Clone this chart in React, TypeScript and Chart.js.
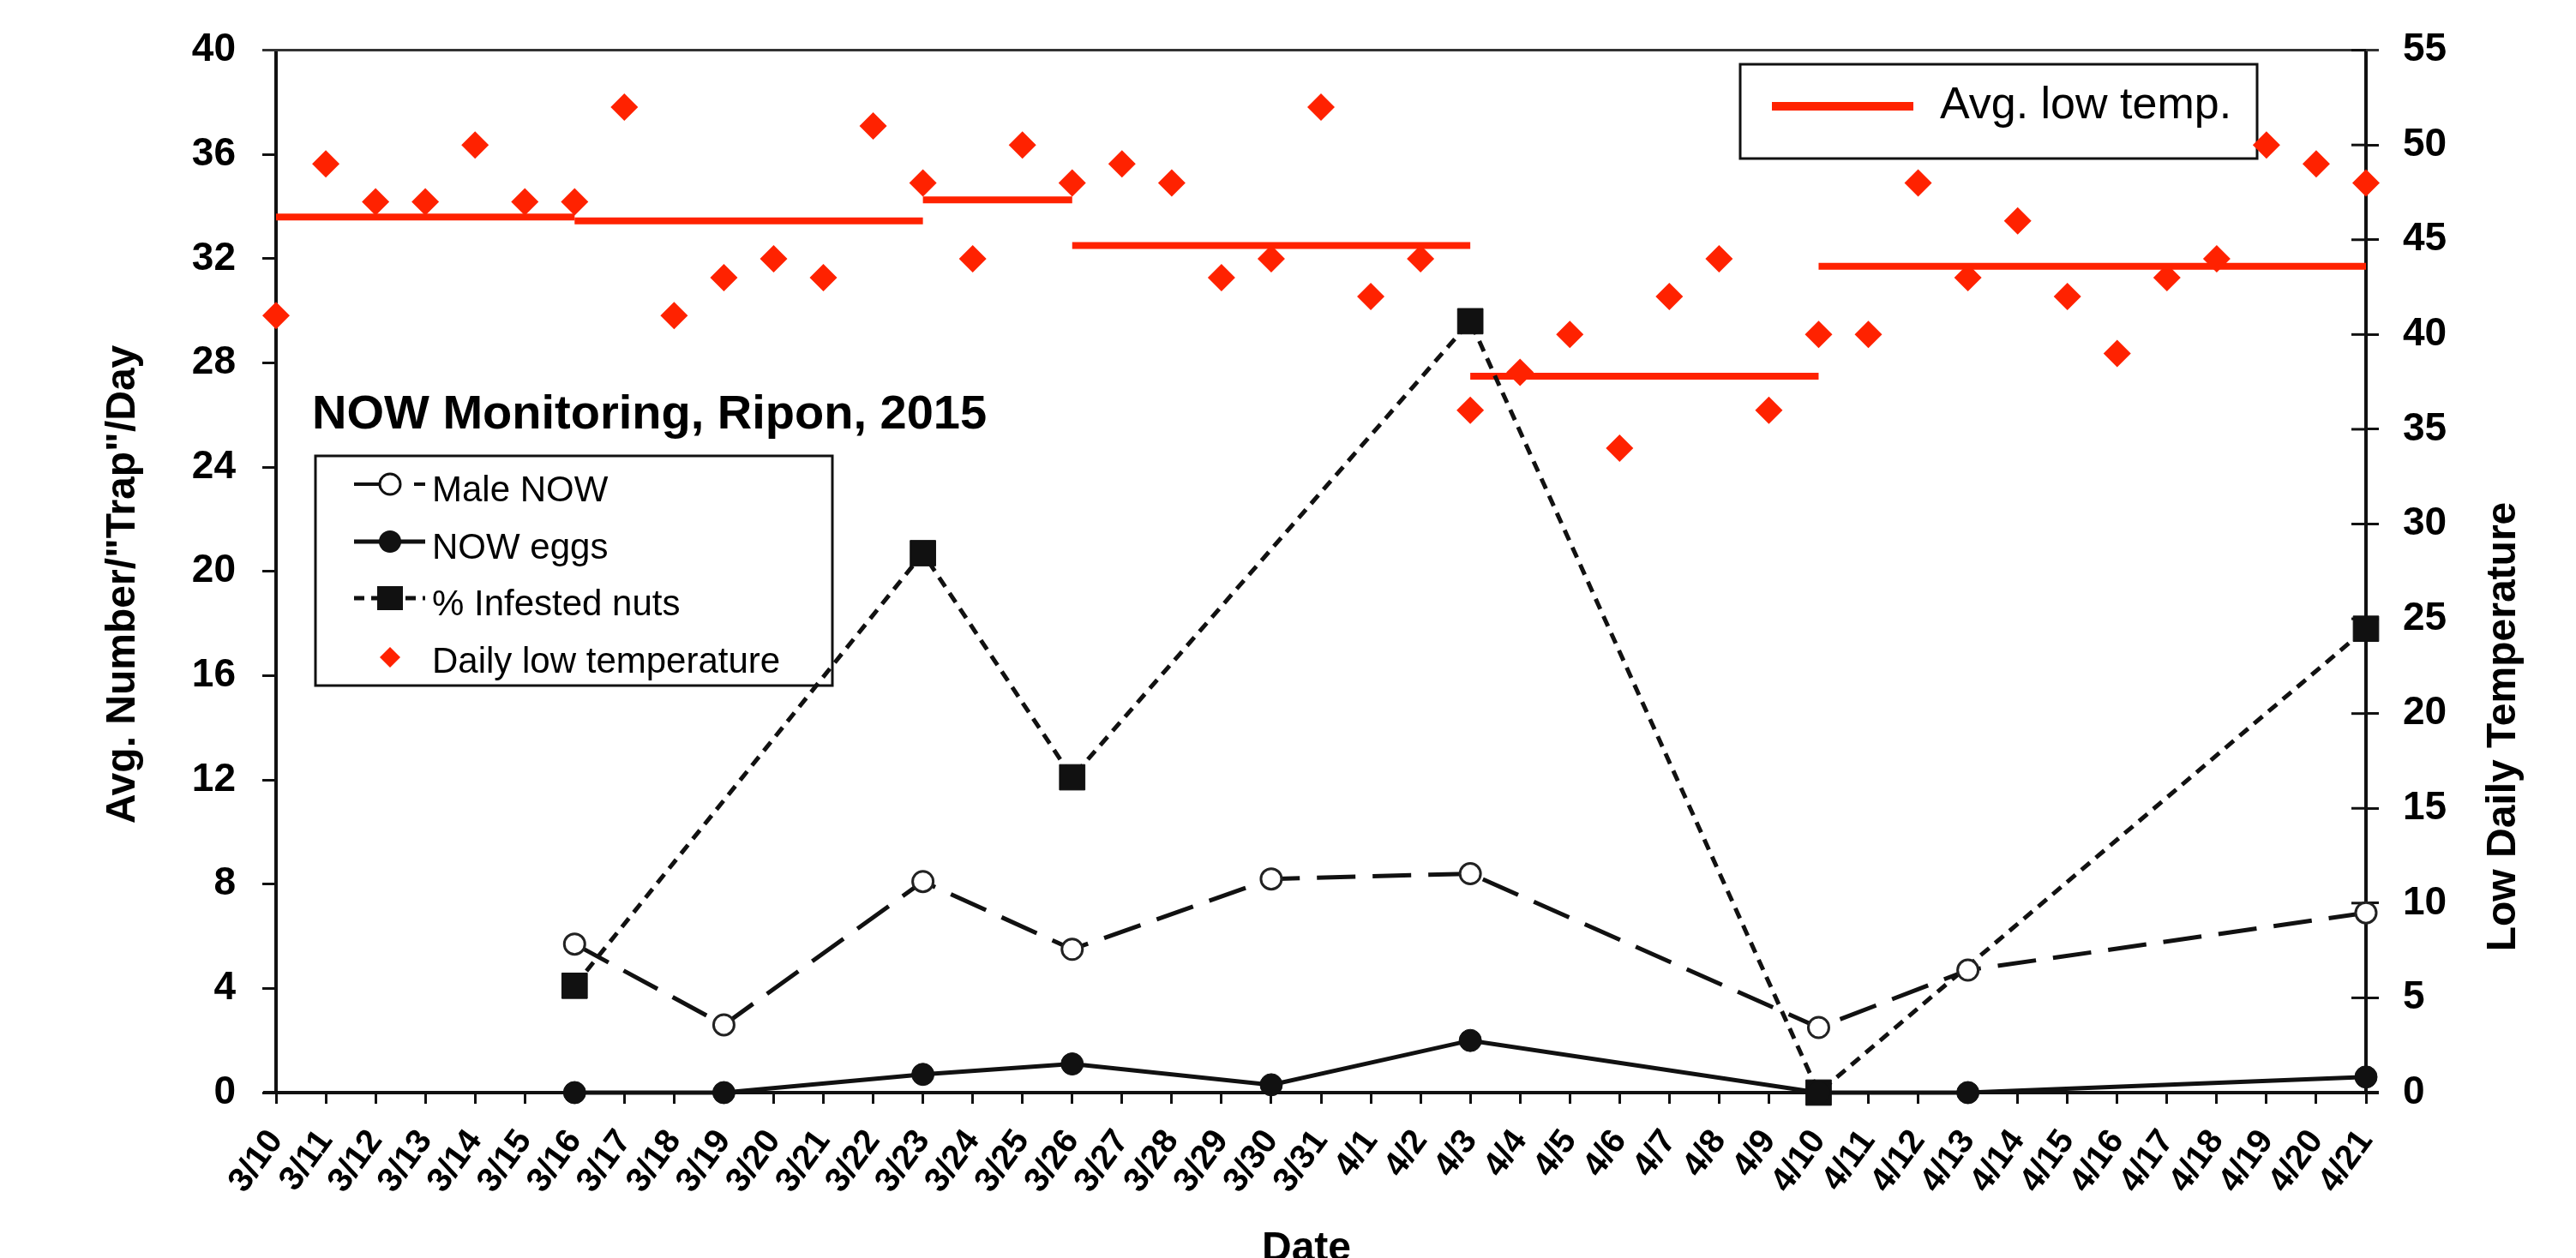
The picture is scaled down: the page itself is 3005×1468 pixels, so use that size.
import React, { useEffect, useRef } from "react";
import { Chart, registerables } from "chart.js";

Chart.register(...registerables);

// ---- Data ----
const dates = [
  "3/10", "3/11", "3/12", "3/13", "3/14", "3/15", "3/16", "3/17", "3/18", "3/19", "3/20",
  "3/21", "3/22", "3/23", "3/24", "3/25", "3/26", "3/27", "3/28", "3/29", "3/30", "3/31",
  "4/1", "4/2", "4/3", "4/4", "4/5", "4/6", "4/7", "4/8", "4/9", "4/10", "4/11",
  "4/12", "4/13", "4/14", "4/15", "4/16", "4/17", "4/18", "4/19", "4/20", "4/21",
];

const sampleDates = ["3/16", "3/19", "3/23", "3/26", "3/30", "4/3", "4/10", "4/13", "4/21"];
const maleNow = [5.7, 2.6, 8.1, 5.5, 8.2, 8.4, 2.5, 4.7, 6.9];
const nowEggs = [0, 0, 0.7, 1.1, 0.3, 2.0, 0, 0, 0.6];
const infestedNuts: (number | null)[] = [4.1, null, 20.7, 12.1, null, 29.6, 0, null, 17.8];

const dailyLowTemp = [
  41, 49, 47, 47, 50, 47, 47, 52, 41, 43, 44, 43, 51, 48, 44, 50, 48, 49, 48, 43, 44, 52,
  42, 44, 36, 38, 40, 34, 42, 44, 36, 40, 40, 48, 43, 46, 42, 39, 43, 44, 50, 49, 48,
];

const avgSegStart = ["3/10", "3/16", "3/23", "3/26", "4/3", "4/10"];
const avgSegEnd = ["3/16", "3/23", "3/26", "4/3", "4/10", "4/21"];
const avgSegValue = [46.2, 46.0, 47.1, 44.7, 37.8, 43.6];

const leftTitle = 'Avg. Number/"Trap"/Day';
const rightTitle = "Low Daily Temperature";
const xTitle = "Date";
const chartTitle = "NOW Monitoring, Ripon, 2015";
const legendLabels = ["Male NOW", "NOW eggs", "% Infested nuts", "Daily low temperature"];
const legend2Label = "Avg. low temp.";

const FONT = "'Liberation Sans', Arial, Helvetica, sans-serif";
const RED = "#ff2200";
const BLACK = "#111111";

const decorPlugin = {
  id: "decor",
  beforeDatasetsDraw(chart: any) {
    const ctx = chart.ctx as CanvasRenderingContext2D;
    const area = chart.chartArea;
    ctx.save();
    // top border
    ctx.strokeStyle = "#333";
    ctx.lineWidth = 3;
    ctx.beginPath();
    ctx.moveTo(area.left - 16, area.top);
    ctx.lineTo(area.right + 15, area.top);
    ctx.stroke();
    // x axis line slightly extended on both ends
    ctx.strokeStyle = BLACK;
    ctx.lineWidth = 4;
    ctx.beginPath();
    ctx.moveTo(area.left - 15, area.bottom);
    ctx.lineTo(area.right + 15, area.bottom);
    ctx.stroke();
    // inner ticks on right axis
    const y1 = chart.scales.y1;
    ctx.lineWidth = 3;
    y1.ticks.forEach((t: any) => {
      const py = y1.getPixelForValue(t.value);
      ctx.beginPath();
      ctx.moveTo(area.right - 17, py);
      ctx.lineTo(area.right, py);
      ctx.stroke();
    });

    // Legend 1 box
    ctx.fillStyle = "#fff";
    ctx.fillRect(368, 532, 603, 268);
    ctx.strokeStyle = BLACK;
    ctx.lineWidth = 3;
    ctx.strokeRect(368, 532, 603, 268);

    const sx = 413, ex = 496, mx = 455;
    const rows = [565, 632, 698, 767];
    const base = [585, 652, 718, 785];
    // Male NOW
    ctx.lineWidth = 4;
    ctx.beginPath();
    ctx.moveTo(sx, rows[0]);
    ctx.lineTo(mx, rows[0]);
    ctx.moveTo(483, rows[0]);
    ctx.lineTo(ex, rows[0]);
    ctx.stroke();
    ctx.beginPath();
    ctx.arc(mx, rows[0], 12, 0, Math.PI * 2);
    ctx.fillStyle = "#fff";
    ctx.fill();
    ctx.lineWidth = 3;
    ctx.stroke();
    // NOW eggs
    ctx.lineWidth = 5;
    ctx.beginPath();
    ctx.moveTo(sx, rows[1]);
    ctx.lineTo(ex, rows[1]);
    ctx.stroke();
    ctx.beginPath();
    ctx.arc(mx, rows[1], 13, 0, Math.PI * 2);
    ctx.fillStyle = BLACK;
    ctx.fill();
    // Infested
    ctx.setLineDash([12, 8]);
    ctx.lineWidth = 5;
    ctx.beginPath();
    ctx.moveTo(sx, rows[2]);
    ctx.lineTo(ex, rows[2]);
    ctx.stroke();
    ctx.setLineDash([]);
    ctx.fillRect(mx - 15, rows[2] - 14, 30, 28);
    // Daily low temp diamond
    ctx.fillStyle = RED;
    ctx.beginPath();
    ctx.moveTo(mx - 12, rows[3]);
    ctx.lineTo(mx, rows[3] - 12);
    ctx.lineTo(mx + 12, rows[3]);
    ctx.lineTo(mx, rows[3] + 12);
    ctx.closePath();
    ctx.fill();
    // texts
    ctx.fillStyle = "#000";
    ctx.font = `42px ${FONT}`;
    ctx.textAlign = "left";
    ctx.textBaseline = "alphabetic";
    legendLabels.forEach((l, i) => ctx.fillText(l, 504, base[i]));

    // Legend 2 box
    ctx.fillStyle = "#fff";
    ctx.fillRect(2030, 75, 603, 110);
    ctx.strokeStyle = BLACK;
    ctx.lineWidth = 3;
    ctx.strokeRect(2030, 75, 603, 110);
    ctx.strokeStyle = RED;
    ctx.lineWidth = 10;
    ctx.beginPath();
    ctx.moveTo(2067, 124);
    ctx.lineTo(2232, 124);
    ctx.stroke();
    ctx.fillStyle = "#000";
    ctx.font = `52px ${FONT}`;
    ctx.fillText(legend2Label, 2263, 138);

    // Chart title
    ctx.font = `bold 56px ${FONT}`;
    ctx.fillText(chartTitle, 364, 500);

    // Axis titles
    ctx.font = `bold 48px ${FONT}`;
    ctx.textAlign = "center";
    ctx.save();
    ctx.translate(157, 682);
    ctx.rotate(-Math.PI / 2);
    ctx.fillText(leftTitle, 0, 0);
    ctx.restore();
    ctx.save();
    ctx.translate(2934, 848);
    ctx.rotate(-Math.PI / 2);
    ctx.fillText(rightTitle, 0, 0);
    ctx.restore();
    ctx.fillText(xTitle, 1524, 1471);
    ctx.restore();
  },
};

export default function App() {
  const ref = useRef<HTMLCanvasElement | null>(null);

  useEffect(() => {
    if (!ref.current) return;
    const pts = (vals: (number | null)[]) =>
      sampleDates
        .map((d, i) => ({ x: d, y: vals[i] }))
        .filter((p) => p.y !== null && p.y !== undefined);

    const avgSets = avgSegValue.map((v, i) => ({
      label: "Avg. low temp.",
      data: [
        { x: avgSegStart[i], y: v },
        { x: avgSegEnd[i], y: v },
      ],
      yAxisID: "y1",
      borderColor: RED,
      borderWidth: 8,
      pointRadius: 0,
      fill: false,
      clip: false as any,
      borderCapStyle: "butt" as const,
    }));

    const chart = new Chart(ref.current, {
      type: "line",
      data: {
        labels: dates,
        datasets: [
          {
            label: "NOW eggs",
            data: pts(nowEggs) as any,
            yAxisID: "y",
            borderColor: BLACK,
            borderWidth: 5,
            pointStyle: "circle",
            pointRadius: 13,
            pointBackgroundColor: BLACK,
            pointBorderColor: BLACK,
            pointBorderWidth: 1,
            clip: false as any,
          },
          {
            label: "Male NOW",
            data: pts(maleNow) as any,
            yAxisID: "y",
            borderColor: BLACK,
            borderWidth: 5,
            borderDash: [45, 20],
            pointStyle: "circle",
            pointRadius: 12,
            pointBackgroundColor: "#fff",
            pointBorderColor: "#222",
            pointBorderWidth: 3,
            clip: false as any,
          },
          {
            label: "% Infested nuts",
            data: pts(infestedNuts) as any,
            yAxisID: "y",
            borderColor: BLACK,
            borderWidth: 5,
            borderDash: [13, 9],
            pointStyle: "rect",
            pointRadius: 21,
            pointBackgroundColor: BLACK,
            pointBorderColor: BLACK,
            pointBorderWidth: 1,
            clip: false as any,
          },
          {
            label: "Daily low temperature",
            data: dailyLowTemp,
            yAxisID: "y1",
            showLine: false,
            pointStyle: "rectRot",
            pointRadius: 16,
            pointBackgroundColor: RED,
            pointBorderColor: RED,
            pointBorderWidth: 0,
            clip: false as any,
          },
          ...avgSets,
        ] as any,
      },
      options: {
        responsive: false,
        animation: false,
        layout: { padding: { top: 57, left: 0, right: 0, bottom: 0 } },
        plugins: {
          legend: { display: false },
          tooltip: { enabled: false },
          title: { display: false },
        },
        elements: { line: { tension: 0 } },
        scales: {
          x: {
            type: "category",
            offset: false,
            grid: {
              drawOnChartArea: false,
              drawTicks: true,
              tickLength: 13,
              tickWidth: 3,
              tickColor: BLACK,
              offset: false,
            },
            border: { display: true, color: BLACK, width: 4 },
            ticks: {
              autoSkip: false,
              maxRotation: 54,
              minRotation: 54,
              padding: 22,
              color: "#000",
              font: { family: FONT, size: 40, weight: "bold" },
            },
            afterFit: (s: any) => {
              s.height = 193;
            },
          },
          y: {
            position: "left",
            min: 0,
            max: 40,
            grid: {
              drawOnChartArea: false,
              tickLength: 16,
              tickWidth: 3,
              tickColor: BLACK,
            },
            border: { display: true, color: BLACK, width: 4 },
            ticks: {
              stepSize: 4,
              padding: 31,
              color: "#000",
              font: { family: FONT, size: 46, weight: "bold" },
            },
            afterFit: (s: any) => {
              s.width = 322;
            },
          },
          y1: {
            position: "right",
            min: 0,
            max: 55,
            grid: {
              drawOnChartArea: false,
              tickLength: 15,
              tickWidth: 3,
              tickColor: BLACK,
            },
            border: { display: true, color: BLACK, width: 4 },
            ticks: {
              stepSize: 5,
              padding: 28,
              color: "#000",
              font: { family: FONT, size: 46, weight: "bold" },
            },
            afterFit: (s: any) => {
              s.width = 245;
            },
          },
        },
      } as any,
      plugins: [decorPlugin],
    });
    return () => chart.destroy();
  }, []);

  return (
    <div
      style={{
        position: "fixed",
        left: 0,
        top: 0,
        width: 3005,
        height: 1468,
        background: "#fff",
        overflow: "hidden",
      }}
    >
      <canvas ref={ref} width={3005} height={1468} style={{ width: 3005, height: 1468, display: "block" }} />
    </div>
  );
}
